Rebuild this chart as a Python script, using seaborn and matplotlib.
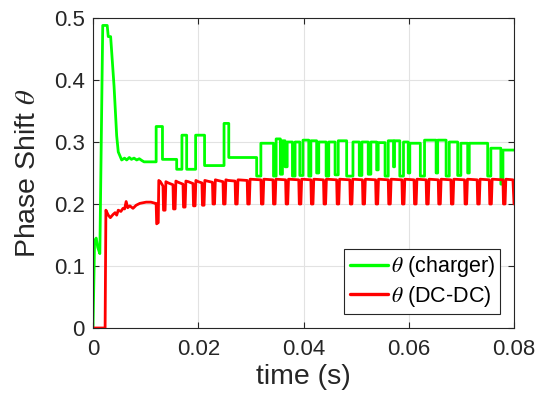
import matplotlib
matplotlib.use("Agg")
import matplotlib.pyplot as plt
import seaborn as sns
import pandas as pd

# ---------------- data (time in ms, theta values) ----------------
charger_t_ms = [
    0, 0.3, 0.6, 0.9, 1.3, 1.85, 2.7, 2.9, 3.35, 3.6, 4.0, 4.5, 4.8, 5.1, 5.45,
    6.0, 6.4, 6.9, 7.3, 7.8, 8.3, 8.8, 9.3, 9.7, 12.0,
    12.0, 13.2, 13.2, 15.9, 15.9, 16.9, 16.9, 17.8, 17.8, 19.5, 19.5, 21.2, 21.2,
    24.9, 24.9, 25.8, 25.8, 31.1, 31.1,
    31.9, 31.9, 34.3, 34.3, 34.8, 34.8, 35.6, 35.6, 36.0, 36.0, 36.5, 36.5,
    36.9, 36.9, 37.9, 37.9, 38.4, 38.4, 39.3, 39.3, 39.9, 39.9, 41.0, 41.0,
    41.4, 41.4, 42.5, 42.5, 42.9, 42.9, 44.3, 44.3, 44.8, 44.8, 46.0, 46.0,
    46.6, 46.6, 48.2, 48.2, 49.4, 49.4, 50.6, 50.6, 51.1, 51.1, 52.3, 52.3,
    52.8, 52.8, 53.9, 53.9, 54.2, 54.2, 55.5, 55.5, 56.1, 56.1, 57.1, 57.1,
    57.3, 57.3, 58.3, 58.3, 59.0, 59.0, 59.9, 59.9, 60.2, 60.2, 62.2, 62.2,
    63.0, 63.0, 65.2, 65.2, 65.5, 65.5, 67.1, 67.1, 67.7, 67.7, 69.3, 69.3,
    69.9, 69.9, 71.2, 71.2, 71.5, 71.5, 75.0, 75.0, 75.6, 75.6, 77.5, 77.5,
    77.9, 77.9, 80.0,
]
charger_theta = [
    0, 0.14, 0.145, 0.13, 0.12, 0.488, 0.488, 0.47, 0.47, 0.44, 0.39, 0.31, 0.284, 0.278, 0.271,
    0.274, 0.271, 0.275, 0.272, 0.274, 0.271, 0.273, 0.27, 0.268, 0.268,
    0.325, 0.325, 0.272, 0.272, 0.256, 0.256, 0.311, 0.311, 0.256, 0.256, 0.311, 0.311, 0.262,
    0.262, 0.33, 0.33, 0.275, 0.275, 0.245,
    0.245, 0.298, 0.298, 0.245, 0.245, 0.305, 0.305, 0.248, 0.248, 0.302, 0.302, 0.26,
    0.26, 0.30, 0.30, 0.245, 0.245, 0.30, 0.30, 0.246, 0.246, 0.303, 0.303, 0.245,
    0.245, 0.302, 0.302, 0.25, 0.25, 0.30, 0.30, 0.245, 0.245, 0.30, 0.30, 0.247,
    0.247, 0.302, 0.302, 0.245, 0.245, 0.30, 0.30, 0.246, 0.246, 0.30, 0.30, 0.248,
    0.248, 0.30, 0.30, 0.255, 0.255, 0.299, 0.299, 0.245, 0.245, 0.302, 0.302, 0.26,
    0.26, 0.302, 0.302, 0.245, 0.245, 0.30, 0.30, 0.25, 0.25, 0.298, 0.298, 0.245,
    0.245, 0.303, 0.303, 0.25, 0.25, 0.303, 0.303, 0.245, 0.245, 0.30, 0.30, 0.246,
    0.246, 0.298, 0.298, 0.25, 0.25, 0.298, 0.298, 0.245, 0.245, 0.29, 0.29, 0.232,
    0.232, 0.287, 0.287,
]

dcdc_t_ms = [
    0, 2.3, 2.45, 2.9, 3.3, 3.8, 4.2, 4.5, 4.8, 5.3, 5.7, 6.0, 6.3, 6.6, 7.0, 7.6, 8.2, 8.9, 10.1, 11.0, 11.9,
    12.0, 12.1, 12.4, 12.5, 12.8, 13.3,
    13.4, 13.7, 13.85, 14.3, 15.2,
    15.3, 15.6, 15.75, 16.2, 17.1,
    17.2, 17.5, 17.65, 18.1, 19.0,
    19.1, 19.4, 19.55, 20.0, 20.7,
    20.8, 21.1, 21.25, 21.7, 22.7,
    22.8, 23.1, 23.25, 23.7, 24.7,
    24.8, 25.1, 25.25, 25.7, 27.0,
    27.1, 27.4, 27.55, 29.3,
    29.4, 29.7, 29.85, 31.9,
    32.0, 32.3, 32.45, 34.2,
    34.3, 34.6, 34.75, 36.6,
    36.7, 37.0, 37.15, 39.1,
    39.2, 39.5, 39.65, 41.4,
    41.5, 41.8, 41.95, 43.8,
    43.9, 44.2, 44.35, 46.3,
    46.4, 46.7, 46.85, 48.8,
    48.9, 49.2, 49.35, 51.2,
    51.3, 51.6, 51.75, 53.7,
    53.8, 54.1, 54.25, 56.1,
    56.2, 56.5, 56.65, 58.7,
    58.8, 59.1, 59.25, 61.0,
    61.1, 61.4, 61.55, 63.3,
    63.4, 63.7, 63.85, 65.6,
    65.7, 66.0, 66.15, 68.0,
    68.1, 68.4, 68.55, 70.6,
    70.7, 71.0, 71.15, 73.0,
    73.1, 73.4, 73.55, 75.3,
    75.4, 75.7, 75.85, 77.9,
    78.0, 78.3, 78.45, 79.8, 80.0,
]
dcdc_theta = [
    0, 0, 0.19, 0.182, 0.178, 0.183, 0.186, 0.182, 0.19, 0.188, 0.193, 0.192, 0.204, 0.194, 0.197, 0.193, 0.198, 0.201, 0.203, 0.203, 0.201,
    0.201, 0.168, 0.17, 0.238, 0.236, 0.229,
    0.19, 0.19, 0.236, 0.234, 0.231,
    0.192, 0.192, 0.237, 0.235, 0.232,
    0.195, 0.195, 0.237, 0.236, 0.233,
    0.197, 0.197, 0.238, 0.236, 0.234,
    0.198, 0.198, 0.238, 0.237, 0.235,
    0.2, 0.2, 0.239, 0.238, 0.236,
    0.2, 0.2, 0.239, 0.238, 0.237,
    0.2, 0.2, 0.239, 0.238,
    0.2, 0.2, 0.24, 0.239,
    0.2, 0.2, 0.24, 0.239,
    0.2, 0.2, 0.24, 0.239,
    0.2, 0.2, 0.24, 0.239,
    0.2, 0.2, 0.24, 0.239,
    0.2, 0.2, 0.24, 0.239,
    0.2, 0.2, 0.24, 0.239,
    0.2, 0.2, 0.24, 0.239,
    0.2, 0.2, 0.24, 0.239,
    0.2, 0.2, 0.24, 0.239,
    0.2, 0.2, 0.24, 0.239,
    0.2, 0.2, 0.24, 0.239,
    0.2, 0.2, 0.24, 0.239,
    0.2, 0.2, 0.24, 0.239,
    0.2, 0.2, 0.24, 0.239,
    0.2, 0.2, 0.24, 0.239,
    0.2, 0.2, 0.24, 0.239,
    0.2, 0.2, 0.24, 0.239,
    0.2, 0.2, 0.24, 0.239,
    0.2, 0.2, 0.24, 0.239,
    0.2, 0.2, 0.24, 0.239, 0.2,
]

series_names = [r"$\theta$ (charger)", r"$\theta$ (DC-DC)"]
series_colors = ["#00ff00", "#ff0000"]
x_ticks = [0, 0.02, 0.04, 0.06, 0.08]
x_tick_labels = ["0", "0.02", "0.04", "0.06", "0.08"]
y_ticks = [0, 0.1, 0.2, 0.3, 0.4, 0.5]
y_tick_labels = ["0", "0.1", "0.2", "0.3", "0.4", "0.5"]

# ---------------- figure ----------------
sns.set_theme(style="white")
plt.rcParams["font.family"] = ["Liberation Sans", "DejaVu Sans"]
plt.rcParams["mathtext.fontset"] = "stix"

df = pd.concat([
    pd.DataFrame({"t": [v / 1000 for v in charger_t_ms], "theta": charger_theta, "series": series_names[0]}),
    pd.DataFrame({"t": [v / 1000 for v in dcdc_t_ms], "theta": dcdc_theta, "series": series_names[1]}),
], ignore_index=True)

fig = plt.figure(figsize=(5.39, 4.07), dpi=100)
ax = fig.add_axes([93 / 539, 1 - 328 / 407, (514 - 93) / 539, (328 - 18) / 407])

sns.lineplot(data=df, x="t", y="theta", hue="series", palette=series_colors,
             estimator=None, sort=False, linewidth=2.0, ax=ax)

ax.set_xlim(0, 0.08)
ax.set_ylim(0, 0.5)
ax.set_xticks(x_ticks)
ax.set_xticklabels(x_tick_labels)
ax.set_yticks(y_ticks)
ax.set_yticklabels(y_tick_labels)
ax.grid(True, color="#e2e2e2", linewidth=0.8)
ax.set_axisbelow(True)
dark = "#262626"
for s in ax.spines.values():
    s.set_color(dark)
    s.set_linewidth(0.8)
ax.tick_params(direction="in", length=4, width=0.8, colors=dark, labelsize=16,
               top=True, right=True, left=True, bottom=True)
ax.tick_params(axis="x", pad=8)
ax.tick_params(axis="y", pad=6)
ax.set_xlabel("time (s)", fontsize=20.5, color=dark, labelpad=3)
ax.set_ylabel(r"Phase Shift $\theta$", fontsize=20.5, color=dark, labelpad=9)

leg = ax.legend(loc="lower right", fontsize=15.5, frameon=True, fancybox=False,
                edgecolor=dark, framealpha=1, handlelength=1.8, handletextpad=0.1,
                borderpad=0.25, labelspacing=0.2, borderaxespad=0.65)
leg.get_frame().set_linewidth(0.8)
for h in leg.get_lines():
    h.set_linewidth(2.4)
for txt in leg.get_texts():
    txt.set_color("black")

fig.savefig("out.png", dpi=100)
